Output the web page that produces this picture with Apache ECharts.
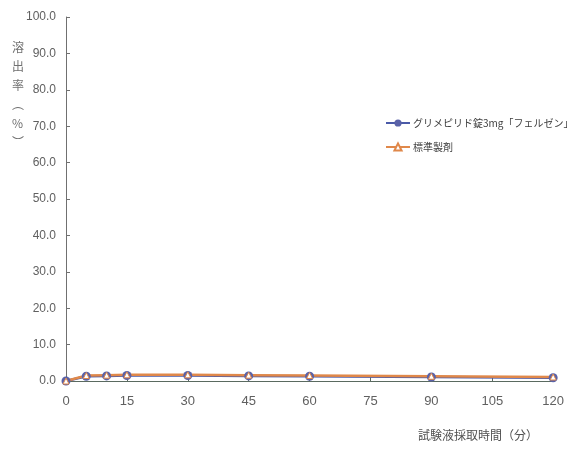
<!DOCTYPE html>
<html><head><meta charset="utf-8">
<script src="https://cdn.jsdelivr.net/npm/echarts@6/dist/echarts.min.js"></script>
<style>html,body{margin:0;padding:0;background:#fff}#c{width:567px;height:453px}</style>
</head><body><div id="c"></div>
<script>
const times = [0, 5, 10, 15, 30, 45, 60, 90, 120];
const testValues = [0, 1.3, 1.4, 1.5, 1.5, 1.4, 1.3, 1.1, 0.9];
const refValues = [0, 1.5, 1.6, 1.7, 1.7, 1.6, 1.5, 1.3, 1.1];
const seriesNames = ['グリメピリド錠3mg「フェルゼン」', '標準製剤'];
const yTitleChars = ['溶', '出', '率', '︵', '%', '︶'];
const xTitle = '試験液採取時間（分）';

const chart = echarts.init(document.getElementById('c'));
const lab = {color: '#606060', fontFamily: 'Liberation Sans', fontSize: 12};
chart.setOption({
  animation: false,
  grid: {left: 66, right: 12, top: 17, bottom: 72},
  legend: {
    orient: 'vertical', left: 380, top: 113, itemGap: 14, itemWidth: 24, itemHeight: 9,
    textStyle: {color: '#404040', fontSize: 10, fontFamily: 'Noto Sans CJK JP', padding: [0, 0, 0, -2]},
    data: seriesNames
  },
  xAxis: {
    type: 'value', min: 0, max: 120, interval: 15,
    axisLine: {show: true, lineStyle: {color: '#5a6a60', width: 1}},
    axisTick: {show: true, inside: true, length: 5, lineStyle: {color: '#5a6a60'}},
    splitLine: {show: false},
    axisLabel: Object.assign({}, lab, {margin: 14, fontSize: 13})
  },
  yAxis: {
    type: 'value', min: 0, max: 100, interval: 10,
    axisLine: {show: true, lineStyle: {color: '#707070', width: 1}},
    axisTick: {show: true, inside: true, length: 4, lineStyle: {color: '#707070'}},
    splitLine: {show: false},
    axisLabel: Object.assign({margin: 10, formatter: v => v.toFixed(1)}, lab)
  },
  graphic: [
    {type: 'text', left: 12, top: 38, style: {text: yTitleChars.join('\n'), fill: '#707070', font: '12px "Noto Sans CJK JP"', lineHeight: 19, align: 'center'}},
    {type: 'text', left: 418, top: 429, style: {text: xTitle, fill: '#505050', font: '12px "Noto Sans CJK JP"'}}
  ],
  series: [
    {
      name: seriesNames[0], type: 'line', data: times.map((t, i) => [t, testValues[i]]),
      symbol: 'circle', symbolSize: 9,
      lineStyle: {color: '#4a5aa8', width: 2.5}, itemStyle: {color: '#5a62a8'}
    },
    {
      name: seriesNames[1], type: 'line', data: times.map((t, i) => [t, refValues[i]]),
      symbol: 'triangle', symbolSize: 6,
      lineStyle: {color: '#e0884a', width: 2.5}, itemStyle: {color: '#fff', borderColor: '#e0884a', borderWidth: 1}
    }
  ]
});
</script></body></html>
